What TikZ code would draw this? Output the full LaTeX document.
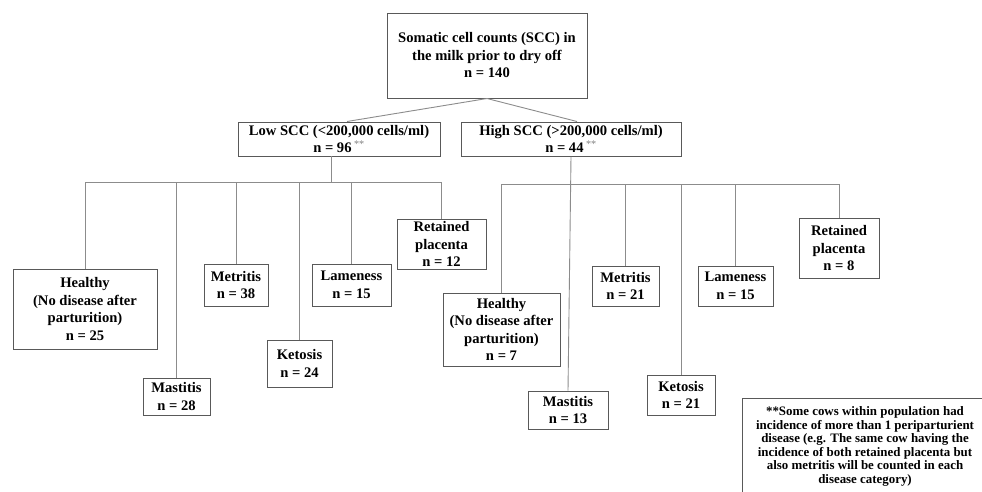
\documentclass[tikz,border=0pt]{standalone}
\usepackage{fontspec}
\usetikzlibrary{calc}
\setmainfont{Liberation Serif}
\definecolor{boxc}{gray}{0.35}
\definecolor{linec}{gray}{0.55}
\definecolor{starc}{gray}{0.5}
\newcommand{\stars}{\,{\color{starc}\mdseries\textsuperscript{**}}}
\begin{document}
\begin{tikzpicture}[x=1pt,y=-1pt,
  box/.style={draw=boxc, line width=1pt, inner sep=0pt, align=center,
    font=\bfseries\fontsize{14.6}{17.5}\selectfont, text=black},
  conn/.style={draw=linec, line width=0.9pt},
  note/.style={draw=boxc, line width=1pt, inner xsep=0pt, inner ysep=4pt, align=center,
    minimum width=246pt, minimum height=110pt, anchor=north,
    font=\bfseries\fontsize{12.9}{13.6}\selectfont, text=black}]
\clip (0,0) rectangle (982,491);
\fill[white] (0,0) rectangle (982,491);
% top
\node[box, minimum width=200pt, minimum height=85pt] (top) at (487,55.5)
  {Somatic cell counts (SCC) in\\the milk prior to dry off\\n = 140};
\node[box, minimum width=202pt, minimum height=34pt] (low) at (339,139)
  {Low SCC (<200,000 cells/ml)\\n = 96\stars};
\node[box, minimum width=220pt, minimum height=34pt] (high) at (571,139)
  {High SCC (>200,000 cells/ml)\\n = 44\stars};
% low children
\node[box, minimum width=144pt, minimum height=80pt] (LH) at (85,309)
  {Healthy\\(No disease after\\parturition)\\n = 25};
\node[box, minimum width=67pt, minimum height=37pt] (LMa) at (176.5,396.5)
  {Mastitis\\n = 28};
\node[box, minimum width=64pt, minimum height=42pt] (LMe) at (236,285)
  {Metritis\\n = 38};
\node[box, minimum width=65pt, minimum height=47pt] (LK) at (299.5,363.5)
  {Ketosis\\n = 24};
\node[box, minimum width=79pt, minimum height=42pt] (LL) at (351.5,285)
  {Lameness\\n = 15};
\node[box, minimum width=89pt, minimum height=50pt] (LR) at (441.5,244)
  {Retained\\placenta\\n = 12};
% high children
\node[box, minimum width=117pt, minimum height=73pt] (HH) at (501.5,329.5)
  {Healthy\\(No disease after\\parturition)\\n = 7};
\node[box, minimum width=80pt, minimum height=38pt] (HMa) at (568,410)
  {Mastitis\\n = 13};
\node[box, minimum width=67pt, minimum height=40pt] (HMe) at (625.5,286)
  {Metritis\\n = 21};
\node[box, minimum width=68pt, minimum height=40pt] (HK) at (681,395)
  {Ketosis\\n = 21};
\node[box, minimum width=75pt, minimum height=40pt] (HL) at (735.5,286)
  {Lameness\\n = 15};
\node[box, minimum width=80pt, minimum height=60pt] (HR) at (839,248)
  {Retained\\placenta\\n = 8};
% footnote
\node[note] (foot) at (865,398)
  {\rule{0pt}{13pt}**Some cows within population had\\incidence of more than 1 periparturient\\disease (e.g. The same cow having the\\incidence of both retained placenta but\\also metritis will be counted in each\\disease category)\\ \\ \\};
% connectors
\coordinate (ls) at (331,156);
\coordinate (lj) at (331,182);
\coordinate (hj) at (571,184);
\draw[conn] (top.south) -- ($(low.north)+(8,0)$);
\draw[conn] (top.south) -- ($(high.north)+(6,0)$);
\draw[conn] (ls) -- (lj);
\draw[conn] (LH.north |- lj) -- (LR.north |- lj);
\foreach \n in {LH,LMa,LMe,LK,LL,LR} \draw[conn] (\n.north |- lj) -- (\n.north);
\draw[conn] (high.south) -- (HMa.north);
\draw[conn] (HH.north |- hj) -- (HR.north |- hj);
\foreach \n in {HH,HMe,HK,HL,HR} \draw[conn] (\n.north |- hj) -- (\n.north);
\end{tikzpicture}
\end{document}
